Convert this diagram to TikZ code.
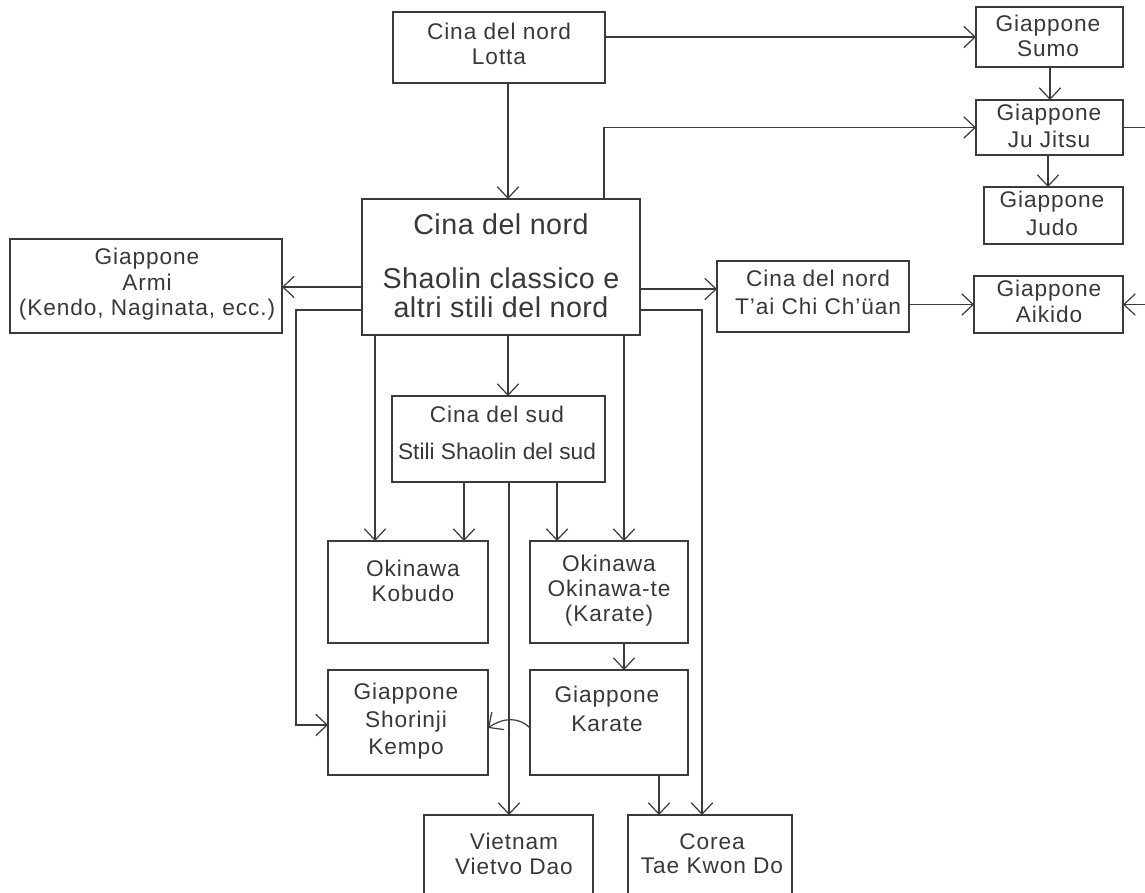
\documentclass[tikz,border=0pt]{standalone}
\usepackage{fontspec}
\setmainfont[LetterSpace=4]{Liberation Sans}
\usetikzlibrary{arrows.meta,fit,calc}
\definecolor{ink}{HTML}{3A3A3A}
\definecolor{txtc}{HTML}{383838}
\begin{document}
\begin{tikzpicture}[x=0.75pt,y=-0.75pt,
  box/.style={draw=ink, line width=0.9pt, inner sep=0pt, outer sep=0pt},
  mainbox/.style={box, line width=2.2pt},
  txt/.style={text=txtc, align=center, inner sep=0pt, anchor=north, font=\fontsize{17}{18.5}\selectfont},
  bigtxt/.style={txt, font=\fontsize{21.5}{21.75}\selectfont\addfontfeatures{LetterSpace=1.7}},
  ln/.style={draw=ink, line width=0.9pt},
  arr/.style={ln, -{Straight Barb[length=8.5pt,width=16pt]}}]
\clip (0,0) rectangle (1145,892);
\useasboundingbox (0,0) rectangle (1145,892);
% boxes
\node[box, fit={(393,12) (605,83)}] (lotta) {};
\node[box, fit={(976,7) (1123,67)}] (sumo) {};
\node[box, fit={(976,100) (1123,155)}] (jujitsu) {};
\node[box, fit={(984,187) (1123,244)}] (judo) {};
\node[box, fit={(974,276) (1123,333)}] (aikido) {};
\node[box, fit={(717,261) (909,332)}] (taichi) {};
\node[box, fit={(10,239) (282,333)}] (armi) {};
\node[mainbox, fit={(362,199) (640,335)}] (main) {};
\node[box, fit={(392,396) (605,482)}] (sud) {};
\node[box, fit={(328,541) (488,643)}] (kobudo) {};
\node[box, fit={(530,541) (688,643)}] (okite) {};
\node[box, fit={(328,670) (488,775)}] (shorinji) {};
\node[box, fit={(530,670) (688,775)}] (karate) {};
\node[box, fit={(424,815) (593,910)}] (vietnam) {};
\node[box, fit={(628,815) (792,910)}] (corea) {};
% texts
\node[txt] (lotta-t) at (499,23) {Cina del nord\\Lotta};
\node[txt] (sumo-t) at (1048,15) {Giappone\\Sumo};
\node[txt] (jujitsu-t) at (1049,104) {Giappone\\[1.5pt]Ju Jitsu};
\node[txt] (judo-t) at (1052,191) {Giappone\\[2pt]Judo};
\node[txt] (aikido-t) at (1049,280) {Giappone\\[1pt]Aikido};
\node[txt] (taichi-t) at (818,270) {Cina del nord\\[2pt]T'ai Chi Ch'üan};
\node[txt] (armi-t) at (147,248) {Giappone\\[1pt]Armi\\(Kendo, Naginata, ecc.)};
\node[bigtxt] (main-t) at (501,213) {Cina del nord\\[18.75pt]Shaolin classico e\\altri stili del nord};
\node[txt] (sud-t) at (497,406) {Cina del sud\\[9pt]{\addfontfeatures{LetterSpace=0}Stili Shaolin del sud}};
\node[txt] (kobudo-t) at (413,560) {Okinawa\\Kobudo};
\node[txt] (okite-t) at (609,555) {Okinawa\\Okinawa-te\\(Karate)};
\node[txt] (shorinji-t) at (406,683) {Giappone\\[2pt]Shorinji\\[2pt]Kempo};
\node[txt] (karate-t) at (607,686) {Giappone\\[3pt]Karate};
\node[txt] (vietnam-t) at (514,833) {Vietnam\\Vietvo Dao};
\node[txt] (corea-t) at (712,833) {Corea\\Tae Kwon Do};
% free ends and bends
\coordinate (jjout) at (1145,127.5);
\coordinate (aiin) at (1145,304.5);
\coordinate (lbend) at (296,725);
% connectors
\draw[arr] (lotta.east |- sumo.west) -- (sumo.west);
\draw[arr] (lotta.south -| 508,0) -- (main.north -| 508,0);
\draw[arr] (main.north -| 604,0) |- (jujitsu.west);
\draw[arr] (sumo.south -| 1050,0) -- (jujitsu.north -| 1050,0);
\draw[arr] (jujitsu.south -| 1048,0) -- (judo.north -| 1048,0);
\draw[ln] (jujitsu.east) -- (jjout);
\draw[arr] (aiin) -- (aikido.east);
\draw[arr] (main.east |- 0,289) -- (taichi.west |- 0,289);
\draw[arr] (taichi.east |- aikido.west) -- (aikido.west);
\draw[arr] (main.west |- 0,287) -- (armi.east |- 0,287);
\draw[arr] (main.west |- 0,310) -| (lbend) -- (shorinji.west |- lbend);
\draw[arr] (main.east |- 0,310) -| (corea.north -| 702,0);
\draw[arr] (main.south -| 375,0) -- (kobudo.north -| 375,0);
\draw[arr] (main.south -| 508,0) -- (sud.north -| 508,0);
\draw[arr] (main.south -| 624,0) -- (okite.north -| 624,0);
\draw[arr] (sud.south -| 464,0) -- (kobudo.north -| 464,0);
\draw[arr] (sud.south -| 509,0) -- (vietnam.north -| 509,0);
\draw[arr] (sud.south -| 557,0) -- (okite.north -| 557,0);
\draw[arr] (okite.south -| 624,0) -- (karate.north -| 624,0);
\draw[arr] (karate.west |- 0,728) .. controls (518,716) and (502,718) .. (shorinji.east |- 0,728);
\draw[arr] (karate.south -| 659,0) -- (corea.north -| 659,0);
\end{tikzpicture}
\end{document}
